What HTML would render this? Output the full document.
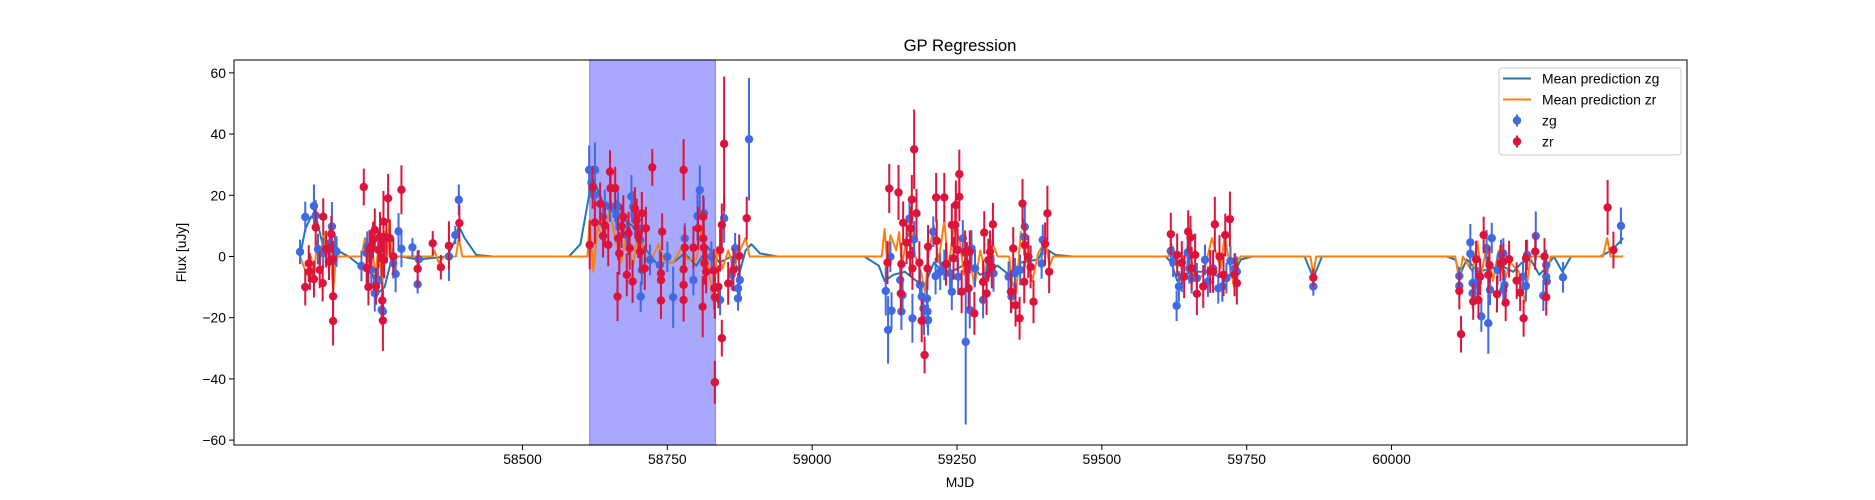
<!DOCTYPE html>
<html><head><meta charset="utf-8"><style>
html,body{margin:0;padding:0;background:#fff;}
svg{display:block;font-family:"Liberation Sans","DejaVu Sans",sans-serif;}
</style></head><body>
<svg id="chart" width="1875" height="500" viewBox="0 0 1875 500" xmlns="http://www.w3.org/2000/svg">
<rect x="0" y="0" width="1875" height="500" fill="#fff"/>
<text x="960" y="51" text-anchor="middle" font-size="16.7" fill="#000">GP Regression</text>
<text x="960" y="487" text-anchor="middle" font-size="13.9" fill="#000">MJD</text>
<text x="0" y="0" transform="translate(186,252.5) rotate(-90)" text-anchor="middle" font-size="13.9" fill="#000">Flux [uJy]</text>
<g id="plot"></g>
</svg>
<script>
const xTicks = [58500, 58750, 59000, 59250, 59500, 59750, 60000];
const yTicks = [-60, -40, -20, 0, 20, 40, 60];
const shadedRange = [58616, 58833];
const zgMean = [[58116,0],[58125,9],[58135,13],[58145,12],[58155,4],[58165,1],[58180,2],[58200,0],[58220,-3],[58240,-5],[58250,-12],[58262,-10],[58275,0],[58290,0],[58320,-1],[58370,0],[58383,5],[58390,10],[58400,6],[58420,0.5],[58450,0],[58580,0],[58600,4],[58615,20],[58625,24],[58640,17],[58660,14],[58690,10],[58710,3],[58730,-2],[58760,-2],[58780,1],[58800,-3],[58820,3],[58840,-2],[58860,0],[58875,-5],[58885,2],[58895,4],[58910,1],[58940,0],[59090,0],[59115,-3],[59125,-8],[59140,-6],[59160,-5],[59180,-8],[59195,-9],[59210,-2],[59230,-6],[59250,-4],[59270,-2],[59290,-6],[59320,-3],[59340,-6],[59360,-2],[59390,-1],[59400,3],[59420,0.5],[59450,0],[59610,0],[59620,-2],[59630,-8],[59640,-6],[59655,-5],[59680,-5],[59710,-7],[59730,-5],[59740,-1],[59760,0],[59850,0],[59865,-7],[59880,0],[60095,0],[60110,-1],[60118,-6],[60130,-1],[60150,-5],[60170,-4],[60190,-3],[60210,-5],[60225,-2],[60240,-1],[60255,-6],[60265,-4],[60280,0],[60295,-5],[60310,0],[60360,0],[60380,2],[60400,6]];
const zrMean = [[58116,0],[58122,-3],[58128,-6],[58135,0],[58140,-8],[58145,5],[58150,-3],[58157,8],[58163,-2],[58168,4],[58173,-12],[58178,0],[58190,0],[58222,0],[58228,6],[58234,-2],[58240,3],[58246,-6],[58252,4],[58258,-10],[58262,8],[58266,-2],[58270,12],[58274,0],[58290,0],[58345,0],[58348,2],[58355,-2],[58365,0],[58385,0],[58390,6],[58396,0],[58612,0],[58616,12],[58622,-5],[58630,10],[58640,5],[58650,15],[58660,6],[58670,-2],[58680,8],[58690,-4],[58700,10],[58710,1],[58720,-2],[58735,4],[58745,-2],[58760,-2],[58775,3],[58785,-1],[58800,-1],[58810,10],[58818,0],[58830,-15],[58836,3],[58845,-4],[58855,2],[58865,-4],[58875,2],[58885,6],[58892,0],[59120,0],[59125,9],[59130,-3],[59135,7],[59145,2],[59150,8],[59155,-3],[59162,5],[59170,10],[59178,0],[59188,-5],[59195,-12],[59200,0],[59210,10],[59218,-2],[59228,12],[59235,-4],[59245,10],[59255,5],[59262,-6],[59270,3],[59280,-10],[59290,2],[59300,-6],[59310,5],[59320,0],[59340,0],[59345,-8],[59352,-12],[59360,8],[59368,2],[59380,-8],[59390,1],[59402,5],[59410,-3],[59416,0],[59615,0],[59620,4],[59628,-3],[59640,-3],[59650,5],[59660,-8],[59675,-6],[59690,6],[59705,-4],[59712,7],[59720,-2],[59728,-10],[59735,-1],[59740,0],[59860,0],[59865,-6],[59870,0],[60110,0],[60117,-8],[60123,0],[60140,-5],[60148,5],[60155,-6],[60165,4],[60175,-8],[60185,2],[60195,-8],[60205,-2],[60220,-5],[60230,-15],[60240,0],[60262,0],[60268,-6],[60275,0],[60365,0],[60372,6],[60378,0],[60400,0]];
const zgPoints = [[58116,1.5,4],[58125,12.9,5],[58140,16.5,7],[58143,13.4,5],[58147,2.4,5],[58156,1.1,5],[58167,4.3,5],[58171,9.8,8],[58176,2.2,5],[58179,1.6,5],[58222,-3.1,5],[58231,1.1,5],[58232,3.2,5],[58239,-4.4,5],[58245,-12,6],[58248,-8.7,5],[58251,-7.6,5],[58257,-17.4,5],[58259,-18,5],[58277,-2.2,5],[58281,-5.7,6],[58286,8.2,6],[58291,2.5,6],[58310,3,3],[58321,-0.9,3],[58319,-9.1,3],[58373,0,8],[58384,7,3],[58390,18.5,5],
[58615,28.3,8],[58625,28.3,9],[58619,24.1,5],[58625,20.1,5],[58639,13,5],[58642,16.8,5],[58651,16.3,5],[58660,16.3,5],[58662,13.6,5],[58665,16.3,5],[58680,7,5],[58688,19.6,7],[58691,16.3,5],[58694,11.9,5],[58703,5.4,5],[58706,-4.4,5],[58704,-13.1,5],[58720,-1.1,5],[58737,-2.8,5],[58750,-0.1,5],[58760,-13.3,10],[58780,5.9,5],[58795,-7.7,5],[58806,21.7,8],[58802,13.2,8],[58813,14.1,5],[58826,-0.1,5],[58841,-14.2,5],[58848,12.5,8],[58861,-6,5],[58867,2.7,5],[58872,-10.4,5],[58872,-13.7,4],[58875,-7.7,5],[58891,38.3,20],
[59127,-11.3,8],[59131,-24,11],[59135,-0.1,5],[59137,-17.7,6],[59152,-7.7,6],[59154,-18,6],[59156,-12.6,6],[59168,12.4,6],[59173,-20.2,8],[59176,5.6,6],[59186,-9.3,5],[59189,-13.1,5],[59192,-17,5],[59193,-20.8,5],[59198,-13.7,5],[59199,-18,5],[59200,-20.8,5],[59209,8.1,5],[59213,-6.4,6],[59221,-5,6],[59228,-2.8,5],[59238,-5.5,6],[59241,-11.5,6],[59252,-6.6,6],[59260,5.9,6],[59265,-27.9,27],[59272,-17.5,6],[59275,2.6,6],[59281,-3.9,6],[59295,-14.2,6],[59301,-6.1,6],[59313,-5.5,6],[59339,-6.6,5],[59344,-13.1,5],[59350,-5.5,5],[59359,-4.4,5],[59366,6.4,6],[59367,9.7,7],[59396,-2.3,5],[59398,5.4,5],
[59619,1.8,5],[59623,-1.7,5],[59629,-16.1,5],[59633,-9.8,5],[59638,-6.6,5],[59648,1.3,5],[59651,-3.9,5],[59655,-7.1,5],[59664,-7.1,5],[59678,-1.1,5],[59683,-8.2,5],[59692,-3.9,5],[59701,-10.4,5],[59708,-9.8,5],[59715,-7.1,5],[59722,-1.5,5],[59730,-3.9,5],[59733,-5,5],[59865,-9.8,3],
[60117,-6.4,3],[60117,-9.6,4],[60136,4.6,6],[60136,0.9,5],[60140,-8.7,5],[60140,-12,5],[60145,-9.3,5],[60149,-8.5,5],[60155,-19.6,5],[60164,2.7,6],[60167,-21.8,10],[60170,-10.9,5],[60173,6,5],[60183,-4.4,5],[60189,0.5,5],[60193,1,5],[60195,-9.3,5],[60193,-10.9,5],[60227,-6.6,5],[60232,-9.6,5],[60234,0.5,5],[60249,6.7,8],[60262,-12.8,5],[60267,-2.8,5],[60267,-6.6,5],[60268,-8.2,5],[60296,-6.8,5],[60396,10,6]];
const zrPoints = [[58125,-10,6],[58131,-2.3,6],[58133,-4.9,6],[58140,-7.4,6],[58143,9.5,6],[58150,-4.4,6],[58155,-8.7,6],[58156,13,6],[58161,2.4,6],[58166,-1.7,6],[58170,7.3,6],[58173,-0.9,6],[58173,-13,8],[58173,-21.1,8],[58226,22.7,6],[58231,-3.8,6],[58234,-10,6],[58236,2.7,6],[58239,2.5,6],[58242,5.4,6],[58245,8.7,7],[58247,-9.8,6],[58251,2.2,6],[58254,6.5,8],[58257,-0.6,6],[58258,-14.4,6],[58259,-20.9,10],[58260,11.4,10],[58261,-1.1,6],[58265,6.2,6],[58268,19,8],[58271,6,6],[58277,0,6],[58291,21.8,8],[58319,-4,6],[58345,4.3,4],[58359,-3.5,4],[58373,3.5,8],[58391,10.9,6],
[58616,3.8,8],[58621,22.6,7],[58625,11.1,7],[58634,17.2,7],[58639,6.7,7],[58642,10.1,7],[58648,3.8,7],[58651,27.7,7],[58652,22.3,7],[58660,22.3,7],[58664,-13.1,8],[58665,5.9,7],[58667,1,7],[58671,9.8,7],[58674,13,7],[58680,-6,7],[58683,7.6,7],[58685,2.7,7],[58690,-8.2,7],[58694,15.7,7],[58697,11.9,7],[58700,6.5,7],[58703,1.6,7],[58706,14.1,7],[58711,-3.9,7],[58713,9.2,7],[58724,29.1,6],[58739,-5.5,7],[58739,-7.7,7],[58739,-14.4,6],[58741,8.1,6],[58778,28.3,10],[58778,-4.2,7],[58778,-9.3,7],[58778,-14.2,7],[58780,2.9,7],[58795,2.9,7],[58803,9.2,7],[58811,-16.4,10],[58812,13,7],[58812,5.9,7],[58813,2.9,7],[58814,-2.2,7],[58817,-5,7],[58830,-4.6,7],[58831,-10.4,7],[58832,-13.3,7],[58832,-41.1,7],[58838,-9.9,7],[58841,2.1,7],[58844,10.3,7],[58844,-26.7,6],[58848,36.8,22],[58855,-8.8,7],[58864,-4.4,7],[58874,0.2,7],[58887,12.5,7],
[59130,-2,7],[59133,22.2,8],[59149,20.9,9],[59153,-12.1,7],[59154,-2.5,7],[59157,11,7],[59163,4.5,7],[59169,0.5,7],[59170,9.2,7],[59172,18.6,8],[59173,-3.9,7],[59176,35,13],[59180,14.1,8],[59185,-2,7],[59189,-21,7],[59194,-32.2,6],[59199,-3.9,7],[59200,3.2,7],[59214,19.3,8],[59215,5.1,7],[59228,19.3,8],[59231,-2.5,7],[59241,10.3,7],[59244,-0.6,7],[59247,10.3,8],[59248,16.8,8],[59251,2.1,7],[59254,19.5,8],[59254,26.9,8],[59258,-11.5,7],[59264,1.5,7],[59267,-2.3,7],[59270,-10.4,7],[59272,1.5,7],[59280,-18.6,7],[59295,-8.3,7],[59297,7.8,7],[59301,-12.1,7],[59304,-1.2,7],[59307,1.5,7],[59310,-3.4,7],[59312,10.5,7],[59343,-11.5,7],[59347,2.6,7],[59351,-15.9,7],[59358,-20.2,7],[59363,17.3,8],[59366,-8.3,7],[59367,3.7,7],[59373,-0.1,7],[59377,-3.4,7],[59382,-14.8,7],[59402,4.1,7],[59406,14.1,9],[59409,-5,7],
[59619,7.3,7],[59630,0.5,7],[59638,-2,7],[59642,-6.6,7],[59649,8.1,7],[59653,6.2,7],[59655,-3.9,7],[59661,0.5,7],[59664,-12.2,7],[59675,-9.8,7],[59687,-4.9,7],[59692,-4.9,7],[59695,10.5,9],[59703,0,7],[59710,-6,7],[59713,7,7],[59721,12.2,9],[59729,-6,7],[59733,-8.7,7],[59865,-6.9,3],
[60117,-11.3,6],[60120,-25.4,6],[60141,-14.7,6],[60146,-0.9,6],[60150,-14.2,6],[60153,-6.6,6],[60159,7,6],[60167,-6,6],[60169,-2.8,6],[60182,-12.3,6],[60188,-2.2,6],[60193,-1.7,6],[60197,-15.1,6],[60203,-0.9,6],[60216,-7.9,6],[60222,-11.8,6],[60228,-20.2,6],[60232,-0.6,6],[60248,1.6,6],[60264,0,6],[60267,-13.3,6],[60373,16,9],[60383,2.1,6]];

const NS = 'http://www.w3.org/2000/svg';
const L = 234, R = 1687, T = 60, B = 445;
const xMin = 58002, xMax = 60510, yMin = -61.6, yMax = 64.2;
function xs(v){ return L + (v - xMin) / (xMax - xMin) * (R - L); }
function ys(v){ return B - (v - yMin) / (yMax - yMin) * (B - T); }
const plot = document.getElementById('plot');
function mk(tag, attrs, parent){
  const e = document.createElementNS(NS, tag);
  for (const k in attrs) e.setAttribute(k, attrs[k]);
  (parent || plot).appendChild(e);
  return e;
}

const sh = mk('rect', {x: xs(shadedRange[0]), y: T, width: xs(shadedRange[1]) - xs(shadedRange[0]), height: B - T, fill: '#a8a8fc', stroke: '#8a8af8', 'stroke-width': 1.2});



function line(arr, color, name){
  const d = arr.map((p, i) => (i ? 'L' : 'M') + xs(p[0]).toFixed(1) + ',' + ys(p[1]).toFixed(1)).join('');
  const e = mk('path', {d: d, fill: 'none', stroke: color, 'stroke-width': 2, 'stroke-linejoin': 'round'});
  
  
}
line(zgMean, '#1f77b4', 'mean-prediction-zg-line');
line(zrMean, '#ff7f0e', 'mean-prediction-zr-line');

function points(arr, color, name){
  const g = mk('g', {});
  
  
  arr.forEach(p => {
    const x = xs(p[0]);
    const b = mk('line', {x1: x, x2: x, y1: ys(p[1] - p[2]), y2: ys(p[1] + p[2]), stroke: color, 'stroke-width': 2}, g);
    
    
    const c = mk('circle', {cx: x, cy: ys(p[1]), r: 4.2, fill: color}, g);
    
    
  });
}
points(zgPoints, '#4169e1', 'zg');
points(zrPoints, '#dc143c', 'zr');

const fr = mk('rect', {x: L, y: T, width: R - L, height: B - T, fill: 'none', stroke: '#000', 'stroke-width': 1});



xTicks.forEach(t => {
  const x = xs(t);
  const tk = mk('line', {x1: x, x2: x, y1: B, y2: B + 5, stroke: '#000', 'stroke-width': 1});
  
  
  const tx = mk('text', {x: x, y: B + 19, 'text-anchor': 'middle', 'font-size': 13.9, fill: '#000'});
  tx.textContent = t;
  
  
});
yTicks.forEach(t => {
  const y = ys(t);
  const tk = mk('line', {x1: L - 5, x2: L, y1: y, y2: y, stroke: '#000', 'stroke-width': 1});
  
  
  const tx = mk('text', {x: L - 8, y: y + 5, 'text-anchor': 'end', 'font-size': 13.9, fill: '#000'});
  tx.textContent = t < 0 ? '\u2212' + Math.abs(t) : String(t);
  
  
});

const lg = mk('g', {});


const lb = mk('rect', {x: 1499, y: 68, width: 182, height: 87, rx: 3, fill: '#fff', 'fill-opacity': 0.8, stroke: '#ccc', 'stroke-width': 1}, lg);


const legendItems = [['line', '#1f77b4', 'Mean prediction zg'], ['line', '#ff7f0e', 'Mean prediction zr'], ['pt', '#4169e1', 'zg'], ['pt', '#dc143c', 'zr']];
legendItems.forEach((it, i) => {
  const y = 78.5 + i * 21;
  const eg = mk('g', {}, lg);
  
  
  if (it[0] === 'line') {
    mk('line', {x1: 1503, x2: 1531, y1: y, y2: y, stroke: it[1], 'stroke-width': 2}, eg);
  } else {
    mk('line', {x1: 1517, x2: 1517, y1: y - 6, y2: y + 6, stroke: it[1], 'stroke-width': 2}, eg);
    mk('circle', {cx: 1517, cy: y, r: 4.2, fill: it[1]}, eg);
  }
  const t = mk('text', {x: 1542, y: y + 5, 'font-size': 13.9, fill: '#000'}, eg);
  t.textContent = it[2];
});
</script>
</body></html>
